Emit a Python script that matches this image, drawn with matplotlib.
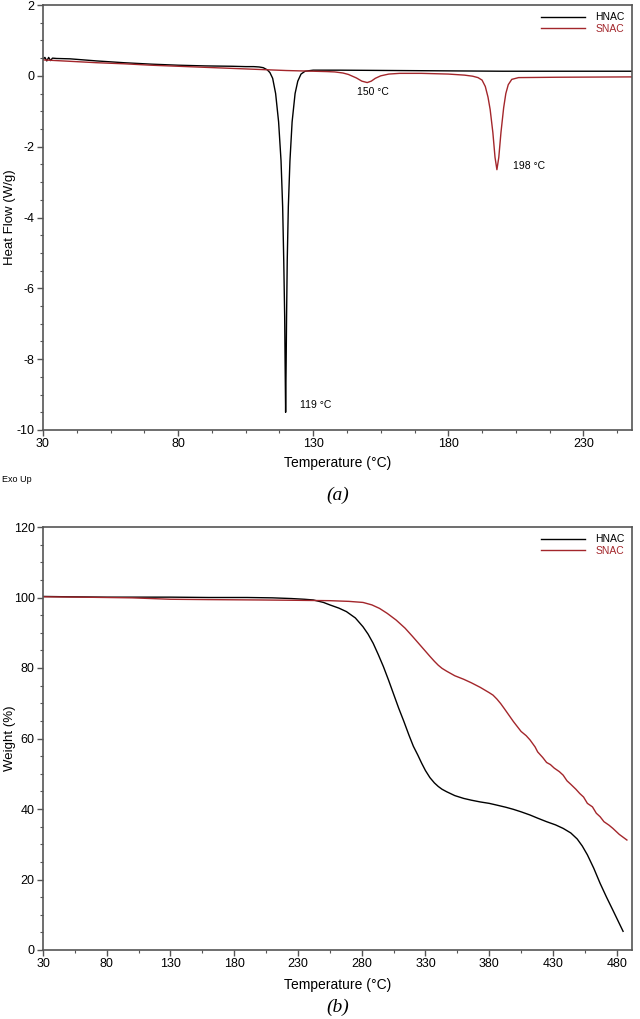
import matplotlib
matplotlib.use("Agg")
import matplotlib.pyplot as plt
import numpy as np
from matplotlib.ticker import FixedLocator, MultipleLocator

plt.rcParams["font.family"] = ["Liberation Sans", "DejaVu Sans"]
plt.rcParams["axes.unicode_minus"] = False

red = "#a3262b"

# DSC (a) - heat flow, W/g
dsc_hnac_t = [30, 30.7, 31.4, 32.1, 32.8, 33.5, 35, 40, 45, 50, 60, 70, 80, 90, 100, 105,
              108, 110, 111.5, 113, 114, 115, 116.1, 117.2, 118.1, 118.7, 119.1, 119.45,
              119.6, 119.8, 120.0, 120.15, 120.4, 120.8, 121.4, 122.2, 123.3, 124.3, 125.5,
              127, 130, 140, 160, 180, 200, 220, 248]
dsc_hnac_hf = [0.47, 0.52, 0.42, 0.52, 0.43, 0.50, 0.49, 0.48, 0.45, 0.42, 0.37, 0.33, 0.30,
               0.28, 0.27, 0.26, 0.26, 0.25, 0.23, 0.17, 0.09, -0.07, -0.5, -1.3, -2.4, -3.7,
               -5.2, -6.8, -8.05, -9.5, -8.05, -6.8, -5.2, -3.7, -2.4, -1.3, -0.5, -0.15,
               0.05, 0.13, 0.16, 0.16, 0.15, 0.14, 0.13, 0.13, 0.13]

dsc_snac_t = [30, 40, 50, 60, 70, 80, 90, 100, 110, 120, 130, 135, 138, 141, 143, 146, 148,
              150, 151.5, 153, 155, 158, 162, 170, 180, 186, 189, 191, 192.5, 193.7, 194.7,
              195.5, 196.5, 197.3, 198, 198.7, 199.5, 200.5, 201.3, 202.2, 203.5, 206, 220,
              248]
dsc_snac_hf = [0.45, 0.41, 0.37, 0.34, 0.30, 0.27, 0.24, 0.21, 0.18, 0.15, 0.13, 0.12, 0.11,
               0.08, 0.04, -0.06, -0.15, -0.19, -0.15, -0.07, 0.0, 0.05, 0.07, 0.07, 0.05,
               0.02, -0.01, -0.05, -0.12, -0.3, -0.6, -0.95, -1.6, -2.3, -2.65, -2.3, -1.6,
               -0.9, -0.5, -0.25, -0.1, -0.05, -0.04, -0.03]

# TGA (b) - weight %
tga_hnac_t = [30, 50, 80, 110, 130, 160, 190, 210, 225, 235, 242, 250, 255, 262, 268, 275,
              281, 285, 289, 293, 297, 301, 305, 309, 313, 317, 320.5, 324, 327, 330, 333.5,
              337, 340, 343, 346.6, 353, 360, 366, 373, 380, 386, 393, 399, 405, 412, 418,
              425, 432, 438, 444, 449, 453, 457, 462, 467, 472, 477, 481, 485]
tga_hnac_w = [100.3, 100.2, 100.1, 100.1, 100.1, 100.0, 100.0, 99.9, 99.7, 99.5, 99.3, 98.6,
              97.9, 97.0, 96.0, 94.2, 91.7, 89.6, 87.0, 83.8, 80.4, 76.6, 72.6, 68.6, 64.9,
              61.0, 57.8, 55.3, 53.0, 50.9, 48.9, 47.4, 46.4, 45.6, 44.9, 43.8, 43.0, 42.5,
              42.0, 41.6, 41.1, 40.5, 39.9, 39.2, 38.3, 37.4, 36.4, 35.5, 34.5, 33.2, 31.5,
              29.5, 27.0, 23.2, 18.9, 15.0, 11.3, 8.3, 5.3]

tga_snac_t = [30, 60, 100, 115, 130, 160, 200, 230, 255, 270, 281, 288, 294, 300, 307, 314,
              320, 327, 333.5, 337, 340, 343, 346.6, 353, 360, 366, 373, 380, 383, 386, 389,
              392, 399, 405, 409, 412, 416, 418, 422, 425, 428, 431, 435, 438, 441, 444, 448,
              451, 454, 457, 461, 464, 467, 470, 474, 477, 482, 488]
tga_snac_w = [100.2, 100.1, 99.9, 99.7, 99.5, 99.4, 99.3, 99.2, 99.1, 98.9, 98.6, 97.9, 96.9,
              95.5, 93.6, 91.3, 88.9, 86.0, 83.3, 81.9, 80.8, 79.9, 79.1, 77.8, 76.8, 75.8,
              74.5, 73.0, 72.3, 71.2, 69.9, 68.4, 64.8, 62.0, 60.8, 59.6, 57.6, 56.2, 54.6,
              53.2, 52.6, 51.6, 50.6, 49.6, 48.0, 47.0, 45.6, 44.4, 43.4, 41.6, 40.6, 38.8,
              37.8, 36.4, 35.4, 34.5, 32.8, 31.2]

dsc_peaks = [(125.1, -9.3, "119 °C"), (146.1, -0.45, "150 °C"), (204.0, -2.54, "198 °C")]

fig = plt.figure(figsize=(6.4, 10.19), dpi=100)
ax1 = fig.add_axes([43/640, 1-430/1019, 589/640, 425/1019])
ax2 = fig.add_axes([43/640, 1-950/1019, 589/640, 423/1019])

ax1.plot(dsc_hnac_t, dsc_hnac_hf, color="black", lw=1.0, label="HNAC")
ax1.plot(dsc_snac_t, dsc_snac_hf, color=red, lw=1.0, label="SNAC")
for x, y, s in dsc_peaks:
    ax1.text(x, y, s, fontsize=7.5, va="center", ha="left")
ax1.set_xlim(30, 248)
ax1.set_ylim(-10, 2)
ax1.set_xticks(np.arange(30, 231, 50))
ax1.xaxis.set_minor_locator(FixedLocator(np.arange(30, 249, 12.5)))
ax1.set_yticks(np.arange(-10, 2.1, 2))
ax1.yaxis.set_minor_locator(MultipleLocator(0.5))
ax1.set_ylabel("Heat Flow (W/g)", fontsize=9.5)
ax1.yaxis.set_label_coords(-0.046, 0.5)
ax1.set_xlabel("Temperature (°C)", fontsize=10)
ax1.xaxis.set_label_coords(0.5, -0.06)
fig.text(2/640, 1-480/1019, "Exo Up", fontsize=6.5, va="center", ha="left")

ax2.plot(tga_hnac_t, tga_hnac_w, color="black", lw=1.0, label="HNAC")
ax2.plot(tga_snac_t, tga_snac_w, color=red, lw=1.0, label="SNAC")
ax2.set_xlim(30, 492)
ax2.set_ylim(0, 120)
ax2.set_xticks(np.arange(30, 481, 50))
ax2.xaxis.set_minor_locator(FixedLocator(np.arange(30, 492, 25)))
ax2.set_yticks(np.arange(0, 121, 20))
ax2.yaxis.set_minor_locator(MultipleLocator(5))
ax2.set_ylabel("Weight (%)", fontsize=9.5)
ax2.yaxis.set_label_coords(-0.046, 0.5)
ax2.set_xlabel("Temperature (°C)", fontsize=10)
ax2.xaxis.set_label_coords(0.5, -0.066)

for ax in (ax1, ax2):
    for sp in ax.spines.values():
        sp.set_color("#555555")
        sp.set_linewidth(1.2)
    ax.tick_params(which="major", direction="out", length=4, width=1, colors="#555555",
                   labelcolor="black", labelsize=9, pad=2)
    ax.tick_params(which="minor", direction="out", length=2.5, width=0.8, colors="#555555")
    leg = ax.legend(loc="upper right", frameon=False, fontsize=7.5, handlelength=4.2,
                    handletextpad=1.0, labelspacing=0.15, borderaxespad=0.3,
                    labelcolor=["black", red])

fig.text(338/640, 1-495/1019, "(a)", fontsize=14, style="italic",
         family="Liberation Serif", ha="center", va="center")
fig.text(338/640, 1-1007/1019, "(b)", fontsize=14, style="italic",
         family="Liberation Serif", ha="center", va="center")

fig.savefig("out.png", dpi=100)
